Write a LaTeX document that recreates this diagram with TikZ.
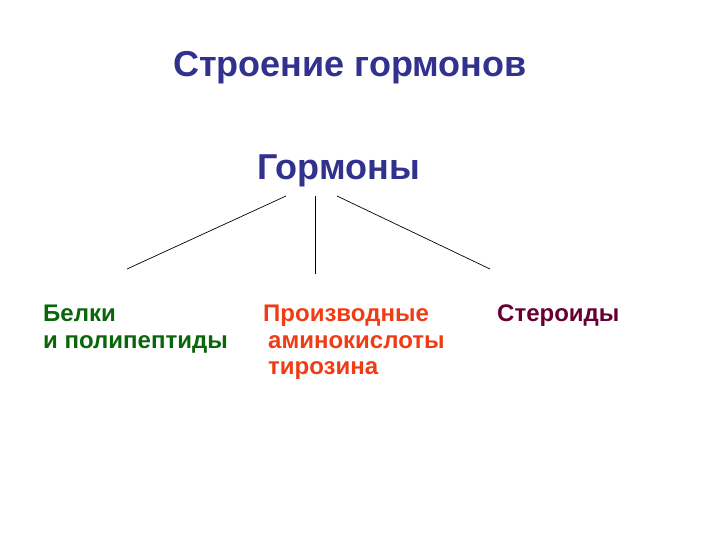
\documentclass[tikz,border=0pt]{standalone}
\usepackage{fontspec}
\setmainfont{Liberation Sans}
\definecolor{ttl}{HTML}{31318E}
\definecolor{grn}{HTML}{0A660A}
\definecolor{org}{HTML}{F03C14}
\definecolor{mar}{HTML}{660033}
\begin{document}
\begin{tikzpicture}[x=1pt,y=1pt,
  txt/.style={inner sep=0pt,anchor=base west,font=\bfseries},
  big/.style={txt,text=ttl,font=\bfseries\fontsize{36}{43}\selectfont},
  sm/.style={txt,font=\bfseries\fontsize{24}{28}\selectfont},
  conn/.style={draw=black,line width=0.7pt}]
\useasboundingbox (0,0) rectangle (720,-540);
\node[big] (title) at (173,-77) {Строение гормонов};
\node[big] (root) at (257,-180) {Гормоны};
\node[sm,text=grn] (a1) at (43,-321) {Белки};
\node[sm,text=grn] (a2) at (43,-348) {и полипептиды};
\node[sm,text=org] (b1) at (263,-321) {Производные};
\node[sm,text=org] (b2) at (268,-348) {аминокислоты};
\node[sm,text=org] (b3) at (268,-374) {тирозина};
\node[sm,text=mar] (c1) at (497,-321) {Стероиды};
\coordinate (s1) at (286,-196);
\coordinate (e1) at (127,-269);
\coordinate (s2) at (315,-196);
\coordinate (e2) at (315,-274);
\coordinate (s3) at (337,-196);
\coordinate (e3) at (490,-269);
\draw[conn] (s1) -- (e1);
\draw[conn] (s2) -- (e2);
\draw[conn] (s3) -- (e3);
\end{tikzpicture}
\end{document}
